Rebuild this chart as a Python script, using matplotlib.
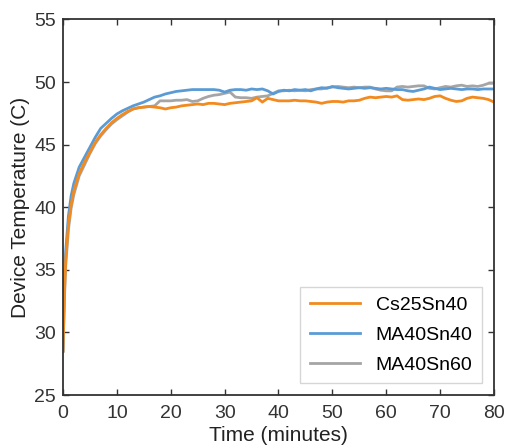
import matplotlib
matplotlib.use("Agg")
import matplotlib.pyplot as plt

plt.rcParams['font.family'] = ['Liberation Sans', 'DejaVu Sans']

time_min = [0, 0.25, 0.5, 1, 1.5, 2] + list(range(3, 81))

cs25sn40 = [28.5, 33.0, 35.8, 38.6, 40.2, 41.3,
            42.7, 43.6, 44.4, 45.2, 45.8, 46.3, 46.75, 47.1, 47.4, 47.65,
            47.85, 47.95, 48.0, 48.05, 48.0, 47.95, 47.85, 47.95, 48.0, 48.1,
            48.15, 48.2, 48.25, 48.2, 48.3, 48.3, 48.25, 48.2, 48.3, 48.35,
            48.4, 48.45, 48.5, 48.75, 48.4, 48.7, 48.6, 48.5, 48.5, 48.5,
            48.55, 48.5, 48.5, 48.45, 48.4, 48.3, 48.4, 48.45, 48.45, 48.4,
            48.5, 48.5, 48.55, 48.7, 48.8, 48.75, 48.8, 48.85, 48.8, 48.9,
            48.6, 48.55, 48.6, 48.65, 48.6, 48.7, 48.85, 48.9, 48.7, 48.55,
            48.45, 48.5, 48.7, 48.8, 48.75, 48.7, 48.6, 48.4]

ma40sn40 = [28.5, 34.0, 36.5, 39.3, 40.9, 41.9,
            43.2, 44.0, 44.8, 45.6, 46.3, 46.7, 47.1, 47.45, 47.7, 47.9,
            48.1, 48.25, 48.4, 48.6, 48.8, 48.9, 49.05, 49.15, 49.25, 49.3,
            49.35, 49.4, 49.4, 49.4, 49.4, 49.4, 49.35, 49.2, 49.35, 49.4,
            49.4, 49.35, 49.45, 49.4, 49.45, 49.3, 49.05, 49.25, 49.35, 49.3,
            49.4, 49.35, 49.4, 49.3, 49.45, 49.55, 49.5, 49.65, 49.55, 49.5,
            49.45, 49.5, 49.55, 49.5, 49.55, 49.5, 49.45, 49.5, 49.45, 49.4,
            49.4, 49.3, 49.25, 49.35, 49.45, 49.6, 49.5, 49.4, 49.45, 49.5,
            49.45, 49.4, 49.45, 49.45, 49.4, 49.45, 49.45, 49.45]

ma40sn60 = [28.5, 32.5, 35.3, 38.2, 39.9, 41.0,
            42.5, 43.4, 44.3, 45.1, 45.7, 46.2, 46.65, 47.0, 47.3, 47.6,
            47.85, 47.95, 48.0, 48.05, 48.1, 48.5, 48.5, 48.5, 48.55, 48.55,
            48.6, 48.45, 48.5, 48.7, 48.85, 48.95, 49.0, 49.1, 49.2, 48.8,
            48.75, 48.75, 48.7, 48.8, 48.85, 48.9, 49.1, 49.3, 49.3, 49.35,
            49.3, 49.35, 49.3, 49.4, 49.45, 49.45, 49.55, 49.6, 49.65, 49.6,
            49.55, 49.6, 49.55, 49.6, 49.6, 49.45, 49.35, 49.3, 49.3, 49.6,
            49.65, 49.6, 49.65, 49.7, 49.7, 49.5, 49.45, 49.55, 49.65, 49.6,
            49.7, 49.75, 49.65, 49.7, 49.65, 49.75, 49.9, 49.9]

series_names = ['Cs25Sn40', 'MA40Sn40', 'MA40Sn60']
colors = ['#F28A1E', '#5B9BD5', '#A5A5A5']

x_ticks = [0, 10, 20, 30, 40, 50, 60, 70, 80]
y_ticks = [25, 30, 35, 40, 45, 50, 55]

fig = plt.figure(figsize=(5.09, 4.48), dpi=100)
ax = fig.add_axes([0.1238, 0.1183, 0.8467, 0.8382])

l3, = ax.plot(time_min, ma40sn60, color=colors[2], lw=2.0, label=series_names[2])
l2, = ax.plot(time_min, ma40sn40, color=colors[1], lw=2.0, label=series_names[1])
l1, = ax.plot(time_min, cs25sn40, color=colors[0], lw=2.0, label=series_names[0])

ax.set_xlim(0, 80)
ax.set_ylim(25, 55)
ax.set_xticks(x_ticks)
ax.set_yticks(y_ticks)
ax.tick_params(direction='in', top=True, right=True, length=4, width=1,
               labelsize=14, colors='#333333')
ax.tick_params(axis='x', pad=7)
ax.tick_params(axis='y', pad=5)
for s in ax.spines.values():
    s.set_color('#333333')
    s.set_linewidth(1.3)

ax.set_xlabel('Time (minutes)', fontsize=15, color='#222222', labelpad=3)
ax.set_ylabel('Device Temperature (C)', fontsize=15, color='#222222', labelpad=3)

leg = ax.legend(handles=[l1, l2, l3], loc='lower right', fontsize=14,
                fancybox=False, edgecolor='#cccccc', handlelength=2.6,
                borderaxespad=0.6, labelspacing=0.62, borderpad=0.5)
leg.get_frame().set_linewidth(1.0)

fig.savefig('out.png', dpi=100)
